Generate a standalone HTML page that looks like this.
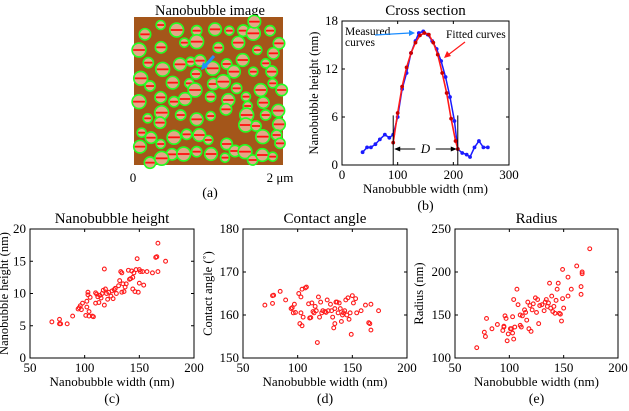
<!DOCTYPE html>
<html><head><meta charset="utf-8"><style>
html,body{margin:0;padding:0;background:#fff}
svg{display:block;font-family:"Liberation Serif",serif}
</style></head><body>
<svg id="fig" width="629" height="411" viewBox="0 0 629 411" xmlns="http://www.w3.org/2000/svg">
<g>
<text x="210" y="15" font-size="14.5" text-anchor="middle">Nanobubble image</text>
<rect x="134" y="17" width="149" height="148" fill="#a4561a"/>
<g id="bubbles"></g>
<path d="M214,56 L204,67" stroke="#1e90ff" stroke-width="3"/>
<path d="M201,70 L203,62 L208,67 Z" fill="#1e90ff"/>
<text x="133" y="182" font-size="13" text-anchor="middle">0</text>
<text x="280" y="182" font-size="13" text-anchor="middle">2 μm</text>
<text x="210" y="197" font-size="14" text-anchor="middle">(a)</text>
</g>
<g id="panelB"></g>
<g id="panelC"></g>
<g id="panelD"></g>
<g id="panelE"></g>
</svg>
<script>
const NS="http://www.w3.org/2000/svg";
const bubbleZ=[[182,75],[135,103],[230,90],[290,92],[345,88],[388,92],[430,92],[460,100],[510,92],[463,65],[253,128],[183,142],[290,125],[355,143],[415,128],[472,150],[537,130],[117,150],[145,188],[240,193],[272,185],[300,182],[338,205],[380,192],[428,180],[497,190],[520,160],[188,208],[288,222],[402,215],[460,215],[515,215],[122,235],[150,258],[218,248],[268,250],[340,252],[370,245],[410,265],[482,270],[518,250],[182,292],[285,270],[332,290],[385,300],[438,290],[545,270],[117,305],[222,305],[255,297],[443,318],[490,308],[185,338],[242,345],[290,358],[332,348],[378,328],[440,345],[497,345],[535,332],[143,355],[180,368],[437,375],[468,378],[537,373],[125,398],[153,413],[222,412],[260,403],[298,405],[325,420],[380,432],[488,410],[530,405],[120,440],[182,432],[216,463],[251,462],[290,455],[333,462],[375,473],[405,453],[435,455],[458,480],[487,465],[518,470],[150,488],[185,475],[540,430]];
const measX=[37,45,52,60,68,77,85,92,100,108,116,124,132,138,146,154,162,170,178,186,194,202,208,216,224,230,238,246,254,262];
const measY=[1.6,2.2,2.2,2.6,3.2,3.8,3.4,3.8,6,9.5,11.5,14,15.5,16.5,16.7,16.3,15.5,14.5,13,11,8.5,5.5,2,1.5,1.3,1,2.2,3,2.2,2.2];
const fitX=[92,100,108,116,124,132,140,148,156,164,172,180,188,196,204,208];
const fitY=[2.8,6.5,9.8,12.2,14,15.3,16.2,16.5,16.3,15.3,13.8,11.5,9,5.8,3,2];
const widthC=[70,77,77,78,84,89,94,95,96,97,98,101,102,102,103,103,104,104,105,107,108,110,110,111,112,113,114,115,116,117,118,118,119,120,121,122,124,125,126,127,128,129,131,132,133,134,134,135,136,137,138,140,141,142,143,144,144,145,146,147,148,149,150,150,151,153,154,157,162,165,166,167,167,174];
const heightC=[5.6,5.3,6,5.3,5.3,6.5,7.6,7.8,8.1,7.5,8.5,6.6,7.9,8.8,9.8,10.2,7.2,6.5,9.4,6.5,6.4,8.5,10.1,9.9,9.5,8.6,9.7,9.3,10,10.5,8.2,13.8,10.7,10,9.1,10.2,9.6,10.4,9.2,10.6,10.8,10,11.2,12,13.4,10.2,13.2,11.5,10.3,11,11.5,13.6,12.2,12.3,13.5,10.7,12.5,13.2,10.3,13.7,15.4,10.2,13.7,11.6,13.4,13.4,11.3,13.4,13.2,15.6,15.7,13.4,17.8,15];
const widthD=[70,77,77,78,84,89,94,95,96,97,98,101,102,103,103,104,104,105,107,108,110,111,112,113,114,115,116,117,118,119,120,121,122,123,125,126,127,128,130,131,132,133,134,134,135,136,137,138,139,140,141,142,143,144,145,146,147,148,149,150,151,153,154,158,162,165,166,167,167,174];
const angleD=[162.3,164.5,162.7,164.6,165.5,163.5,161.5,161.7,160.5,162.5,160.6,165,158,160.5,164.2,157.5,166,159.5,166.3,166.5,162.6,159.3,159.4,162.8,160.8,160.5,162,161,153.6,164.2,159.5,163,160.5,161,160.8,160.6,163.5,161,162.5,161,159.5,157,158,161.5,163,163,160.5,162.8,161.5,158.5,160,160.5,161,163.5,160,164,159,160.5,155.5,164.5,162.8,163.8,160.5,161,162.3,158.2,158,162.5,156.5,161];
const widthE=[70,77,78,79,84,89,94,95,95,96,97,98,99,101,102,103,103,104,104,105,107,108,110,110,111,112,114,115,116,117,118,119,120,121,122,124,125,126,127,128,130,132,133,134,135,136,137,138,139,140,141,142,143,144,145,146,147,148,149,149,150,154,154,157,162,166,166,167,167,174];
const radiusE=[112,130,125,146,134,139,132,136,137,149,146,120,128,134,134,129,148,122,168,136,180,162,150,138,136,149,156,153,144,165,134,161,131,156,163,170,153,168,140,161,162,155,165,168,160,164,187,158,172,154,160,152,167,180,187,152,151,143,169,203,158,172,194,180,207,183,174,198,200,227];

function el(tag,attrs,parent,txt){const e=document.createElementNS(NS,tag);for(const k in attrs)e.setAttribute(k,attrs[k]);if(txt!==undefined)e.textContent=txt;parent.appendChild(e);return e;}

const bg=document.getElementById('bubbles');
bubbleZ.forEach((b,i)=>{
  const cx=100+b[0]/3, cy=b[1]/3, r=4.5+(i*7%5)*0.6;
  const g=el('g',{},bg);
  
  
  el('circle',{cx:cx,cy:cy,r:r,fill:'#e2a888',stroke:'#22ff22','stroke-width':1.6},g);
  el('line',{x1:cx-r+1,x2:cx+r-1,y1:cy,y2:cy,stroke:'#ff1111','stroke-width':1.8},g);
});

function axes(g,box,xd,yd,xt,yt,name,xTitle,yTitle,title,label,yTitleX){
  const sx=v=>box.x0+(v-xd[0])/(xd[1]-xd[0])*(box.x1-box.x0);
  const sy=v=>box.y1-(v-yd[0])/(yd[1]-yd[0])*(box.y1-box.y0);
  const r=el('rect',{x:box.x0,y:box.y0,width:box.x1-box.x0,height:box.y1-box.y0,fill:'none',stroke:'#000','stroke-width':1},g);
  
  
  xt.forEach(v=>{
    el('line',{x1:sx(v),x2:sx(v),y1:box.y1,y2:box.y1-3,stroke:'#000'},g);
    el('line',{x1:sx(v),x2:sx(v),y1:box.y0,y2:box.y0+3,stroke:'#000'},g);
    const t=el('text',{x:sx(v),y:box.y1+14,'font-size':13,'text-anchor':'middle'},g,v);
    
    
  });
  yt.forEach(v=>{
    el('line',{x1:box.x0,x2:box.x0+3,y1:sy(v),y2:sy(v),stroke:'#000'},g);
    el('line',{x1:box.x1,x2:box.x1-3,y1:sy(v),y2:sy(v),stroke:'#000'},g);
    const t=el('text',{x:box.x0-4,y:sy(v)+4,'font-size':13,'text-anchor':'end'},g,v);
    
    
  });
  const cx=(box.x0+box.x1)/2;
  let t=el('text',{x:cx,y:box.y1+28,'font-size':13,'text-anchor':'middle'},g,xTitle);
  
  
  const ym=(box.y0+box.y1)/2;
  t=el('text',{x:yTitleX,y:ym,'font-size':12.5,'text-anchor':'middle',transform:`rotate(-90 ${yTitleX} ${ym})`},g,yTitle);
  
  
  t=el('text',{x:cx,y:box.y0-6,'font-size':15,'text-anchor':'middle'},g,title);
  
  
  t=el('text',{x:cx,y:box.y1+45,'font-size':14,'text-anchor':'middle'},g,label);
  
  
  return {sx,sy};
}

(function(){
  const g=document.getElementById('panelB');
  const box={x0:342,x1:509,y0:21,y1:165};
  const {sx,sy}=axes(g,box,[0,300],[0,18],[0,100,200,300],[0,6,12,18],'cross-section','Nanobubble width (nm)','Nanobubble height (nm)','Cross section','(b)',318);
  const lineM=el('polyline',{points:measX.map((x,i)=>sx(x)+','+sy(measY[i])).join(' '),fill:'none',stroke:'#1a1aff','stroke-width':1.5},g);
  
  
  measX.forEach((x,i)=>{const c=el('circle',{cx:sx(x),cy:sy(measY[i]),r:1.9,fill:'#1a1aff'},g);
    
    });
  const lineF=el('polyline',{points:fitX.map((x,i)=>sx(x)+','+sy(fitY[i])).join(' '),fill:'none',stroke:'#ff1a1a','stroke-width':1.6},g);
  
  
  fitX.forEach((x,i)=>{const c=el('circle',{cx:sx(x),cy:sy(fitY[i]),r:1.9,fill:'#cc0000'},g);
    
    });
  const xl=sx(92),xr=sx(208);
  el('line',{x1:xl,x2:xl,y1:sy(6.2),y2:box.y1,stroke:'#000'},g);
  el('line',{x1:xr,x2:xr,y1:sy(6.2),y2:box.y1,stroke:'#000'},g);
  const yD=sy(2);
  el('line',{x1:xl+2,x2:xl+22,y1:yD,y2:yD,stroke:'#000'},g);
  el('path',{d:`M${xl+1},${yD} l6,-2.5 v5 z`,fill:'#000'},g);
  el('line',{x1:xr-22,x2:xr-2,y1:yD,y2:yD,stroke:'#000'},g);
  el('path',{d:`M${xr-1},${yD} l-6,-2.5 v5 z`,fill:'#000'},g);
  let t=el('text',{x:(xl+xr)/2,y:yD+4,'font-size':13,'font-style':'italic','text-anchor':'middle'},g,'D');
  
  
  t=el('text',{x:345,y:35,'font-size':11.5},g,'Measured');
  
  
  el('text',{x:345,y:46,'font-size':11.5},g,'curves');
  el('line',{x1:375,x2:410,y1:35,y2:33,stroke:'#1a8cff','stroke-width':1.2},g);
  el('path',{d:'M415,33 l-6,-3 l0,6 z',fill:'#1a8cff'},g);
  t=el('text',{x:446,y:38,'font-size':11.5},g,'Fitted curves');
  
  
  el('line',{x1:465,x2:448,y1:42,y2:55,stroke:'#ff1a1a','stroke-width':1.2},g);
  el('path',{d:'M444,58 l3,-7 l4,5 z',fill:'#ff1a1a'},g);
})();

function scatter(id,box,xd,yd,xt,yt,name,xs,ys,yTitle,title,label,ytx){
  const g=document.getElementById(id);
  const {sx,sy}=axes(g,box,xd,yd,xt,yt,name,'Nanobubble width (nm)',yTitle,title,label,ytx);
  xs.forEach((x,i)=>{
    const c=el('circle',{cx:sx(x),cy:sy(ys[i]),r:1.9,fill:'none',stroke:'#ff1a1a','stroke-width':1.1},g);
    
    
  });
}
scatter('panelC',{x0:30,x1:194,y0:229,y1:358},[50,200],[0,20],[50,100,150,200],[0,5,10,15,20],'height-scatter',widthC,heightC,'Nanobubble height (nm)','Nanobubble height','(c)',8);
scatter('panelD',{x0:243,x1:407,y0:229,y1:358},[50,200],[150,180],[50,100,150,200],[150,160,170,180],'contact-angle-scatter',widthD,angleD,'Contact angle (˚)','Contact angle','(d)',212);
scatter('panelE',{x0:455,x1:618,y0:229,y1:358},[50,200],[100,250],[50,100,150,200],[100,150,200,250],'radius-scatter',widthE,radiusE,'Radius (nm)','Radius','(e)',423);
</script>
</body></html>
